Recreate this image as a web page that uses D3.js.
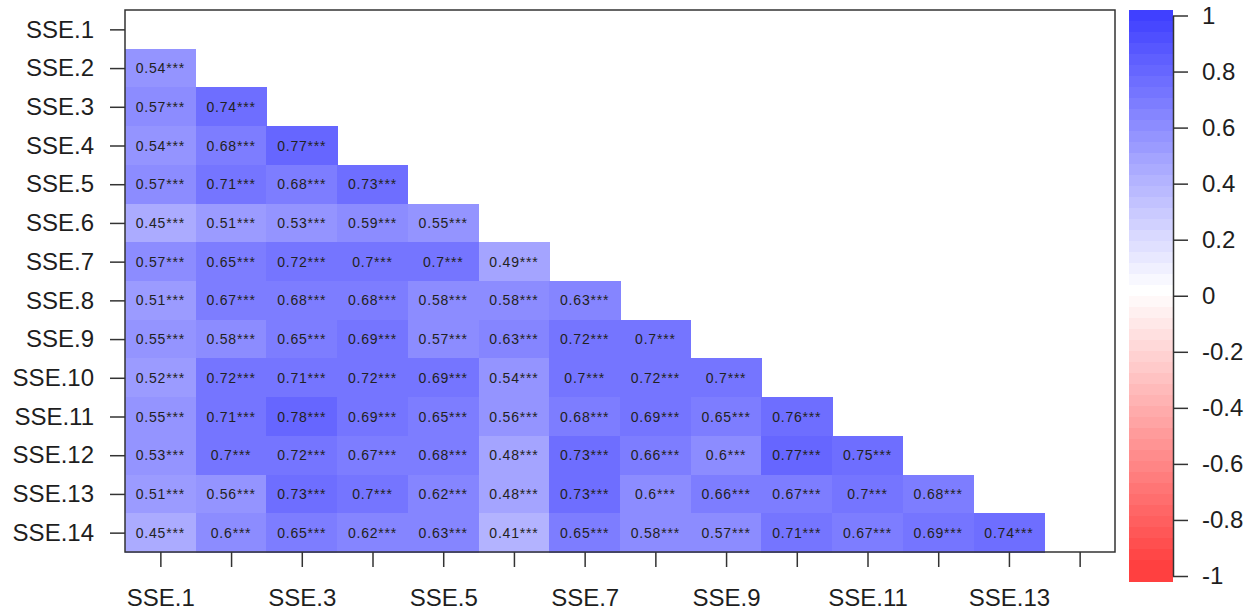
<!DOCTYPE html>
<html>
<head>
<meta charset="utf-8">
<script src="https://cdn.jsdelivr.net/npm/d3@7"></script>
<style>
  html, body { margin: 0; padding: 0; background: #fff; }
  svg { display: block; font-family: "Liberation Sans", Arial, sans-serif; }
</style>
</head>
<body>
<svg id="chart" width="1250" height="612"></svg>
<script>
// Variable names (rows and columns of the correlation matrix)
const variables = ["SSE.1","SSE.2","SSE.3","SSE.4","SSE.5","SSE.6","SSE.7",
                   "SSE.8","SSE.9","SSE.10","SSE.11","SSE.12","SSE.13","SSE.14"];

// Lower triangle of the correlation matrix, one array per row (SSE.2 .. SSE.14)
const lowerTriangle = [
  [0.54],
  [0.57, 0.74],
  [0.54, 0.68, 0.77],
  [0.57, 0.71, 0.68, 0.73],
  [0.45, 0.51, 0.53, 0.59, 0.55],
  [0.57, 0.65, 0.72, 0.7, 0.7, 0.49],
  [0.51, 0.67, 0.68, 0.68, 0.58, 0.58, 0.63],
  [0.55, 0.58, 0.65, 0.69, 0.57, 0.63, 0.72, 0.7],
  [0.52, 0.72, 0.71, 0.72, 0.69, 0.54, 0.7, 0.72, 0.7],
  [0.55, 0.71, 0.78, 0.69, 0.65, 0.56, 0.68, 0.69, 0.65, 0.76],
  [0.53, 0.7, 0.72, 0.67, 0.68, 0.48, 0.73, 0.66, 0.6, 0.77, 0.75],
  [0.51, 0.56, 0.73, 0.7, 0.62, 0.48, 0.73, 0.6, 0.66, 0.67, 0.7, 0.68],
  [0.45, 0.6, 0.65, 0.62, 0.63, 0.41, 0.65, 0.58, 0.57, 0.71, 0.67, 0.69, 0.74]
];

// Significance marker shown after every coefficient (all p < .001)
const significance = "***";

// Colour-bar tick values
const legendTicks = [-1, -0.8, -0.6, -0.4, -0.2, 0, 0.2, 0.4, 0.6, 0.8, 1];

// Columns shown with a text label on the bottom axis
const xLabelled = [1, 3, 5, 7, 9, 11, 13];

const nColors = 51;
const alpha = 0.75;

// red -> white -> blue ramp, blended at 75% opacity over white
const palette = d3.range(nColors).map(i => {
  const t = i / (nColors - 1);
  const c = t <= 0.5
    ? d3.rgb(d3.interpolateRgb("#ff0000", "#ffffff")(t / 0.5))
    : d3.rgb(d3.interpolateRgb("#ffffff", "#0000ff")((t - 0.5) / 0.5));
  const mix = v => Math.round(255 - alpha * (255 - v));
  return d3.rgb(mix(c.r), mix(c.g), mix(c.b)).formatHex();
});

// value -> colour index with right-closed bins over [-1, 1]
const step = 2 / nColors;
const colorIndex = v => Math.max(0, Math.min(nColors - 1, Math.ceil((v + 1) / step - 1e-9) - 1));
const colorOf = v => palette[colorIndex(v)];

const svg = d3.select("#chart");
const ink = "#1e1e1e";
const box = { left: 125, right: 1115, top: 10, bottom: 552 };

const x = d3.scaleLinear().domain([0.5, variables.length + 0.5]).range([box.left, box.right]);
const y = d3.scaleLinear().domain([0.5, variables.length + 0.5]).range([box.top, box.bottom]);

// flatten the triangle into cells
const cells = [];
lowerTriangle.forEach((row, r) => {
  row.forEach((v, c) => cells.push({ row: r + 2, col: c + 1, value: v }));
});

const colW = x(2) - x(1);
const rowH = y(2) - y(1);

const cellG = svg.append("g");
cellG.selectAll("rect").data(cells).join("rect")
  .attr("x", d => x(d.col - 0.5))
  .attr("y", d => y(d.row - 0.5))
  .attr("width", colW + 0.5)
  .attr("height", rowH + 0.5)
  .attr("fill", d => colorOf(d.value))
  .attr("shape-rendering", "crispEdges");

cellG.selectAll("text").data(cells).join("text")
  .attr("x", d => x(d.col))
  .attr("y", d => y(d.row) + 5)
  .attr("text-anchor", "middle")
  .attr("font-size", 14)
  .attr("letter-spacing", 0.8)
  .attr("fill", "#222")
  .text(d => String(d.value) + significance);

// plot frame
svg.append("rect")
  .attr("x", box.left).attr("y", box.top)
  .attr("width", box.right - box.left).attr("height", box.bottom - box.top)
  .attr("fill", "none").attr("stroke", "#333").attr("stroke-width", 1.5);

// left axis
const yAxis = svg.append("g")
  .attr("transform", `translate(${box.left},0)`)
  .call(d3.axisLeft(y)
    .tickValues(d3.range(1, variables.length + 1))
    .tickFormat(i => variables[i - 1])
    .tickSize(15).tickPadding(16));
yAxis.select(".domain").remove();

// bottom axis
const xAxis = svg.append("g")
  .attr("transform", `translate(0,${box.bottom})`)
  .call(d3.axisBottom(x)
    .tickValues(d3.range(1, variables.length + 1))
    .tickFormat(i => xLabelled.includes(i) ? variables[i - 1] : "")
    .tickSize(15).tickPadding(22));
xAxis.select(".domain").remove();

[yAxis, xAxis].forEach(g => {
  g.selectAll("line").attr("stroke", "#333").attr("stroke-width", 1.5);
  g.selectAll("text").attr("font-size", 24).attr("fill", ink)
    .attr("font-family", "'Liberation Sans', Arial, sans-serif");
});

// colour bar
const legend = { left: 1129, right: 1173 };
const ly = d3.scaleLinear().domain([-1, 1]).range([576, 15.5]);
const nBands = nColors + 1;
const bandVals = d3.range(nBands).map(j => -1 + j * step);
const bandH = (ly(-1) - ly(1)) / (nBands - 1);
svg.append("g").selectAll("rect").data(bandVals).join("rect")
  .attr("x", legend.left)
  .attr("width", legend.right - legend.left)
  .attr("y", (d, j) => ly(-1) - j * bandH - bandH / 2)
  .attr("height", bandH + 0.5)
  .attr("fill", d => colorOf(d))
  .attr("shape-rendering", "crispEdges");

const lAxis = svg.append("g")
  .attr("transform", `translate(${legend.right},0)`)
  .call(d3.axisRight(ly)
    .tickValues(legendTicks)
    .tickFormat(d => String(d))
    .tickSize(15).tickSizeOuter(0).tickPadding(14));
lAxis.select(".domain").attr("stroke", "#333").attr("stroke-width", 1.5);
lAxis.selectAll("line").attr("stroke", "#333").attr("stroke-width", 1.5);
lAxis.selectAll("text").attr("font-size", 24).attr("fill", ink)
  .attr("font-family", "'Liberation Sans', Arial, sans-serif");
</script>
</body>
</html>
